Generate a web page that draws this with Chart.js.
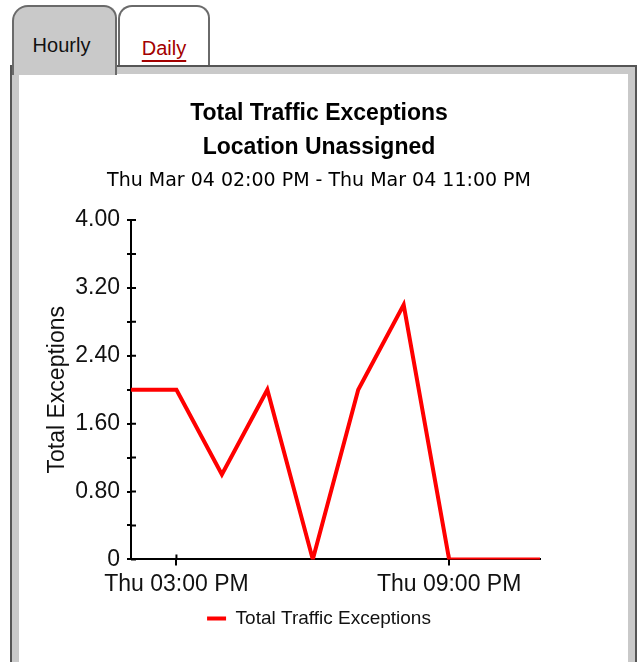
<!DOCTYPE html>
<html>
<head>
<meta charset="utf-8">
<title>Total Traffic Exceptions</title>
<script src="https://cdn.jsdelivr.net/npm/chart.js@4"></script>
<style>
  body { margin: 0; background: #fff; width: 638px; height: 662px; overflow: hidden; position: relative; font-family: 'Liberation Sans', Arial, sans-serif; }
  .tab { position: absolute; top: 5px; box-sizing: border-box; border: 2px solid #6a6a6a; border-bottom: none; font-size: 20px; text-align: center; }
  #tabHourly { left: 12px; width: 105px; height: 70px; background: #c9c9c9; border-radius: 16px 13px 0 0; z-index: 3; color: #111; padding-top: 27px; padding-right: 6px; }
  #tabDaily { left: 118px; width: 92px; height: 62px; background: #fff; border-radius: 14px 13px 0 0; z-index: 1; padding-top: 30px; }
  #tabDaily a { color: #a30000; text-decoration: underline; text-underline-offset: 5px; }
  #panel { position: absolute; left: 10px; top: 65px; width: 627px; height: 610px; box-sizing: border-box; border: 2px solid #555; z-index: 2; }
  #panelInner { position: absolute; left: 0; top: 0; right: 0; bottom: 0; border: 7px solid #c9c9c9; background: #fff; }
  #chartBox { position: absolute; left: 20px; top: 76px; width: 608px; height: 579px; z-index: 4; }
</style>
</head>
<body>
<div class="tab" id="tabHourly">Hourly</div>
<div class="tab" id="tabDaily"><a>Daily</a></div>
<div id="panel"><div id="panelInner"></div></div>
<div id="chartBox"><canvas id="trafficChart"></canvas></div>

<script>
// Data
const hours = ['02:00 PM', '03:00 PM', '04:00 PM', '05:00 PM', '06:00 PM',
               '07:00 PM', '08:00 PM', '09:00 PM', '10:00 PM', '11:00 PM'];
const exceptions = [2, 2, 1, 2, 0, 2, 3, 0, 0, 0];
const xTickLabels = ['', 'Thu 03:00 PM', '', '', '', '', '', 'Thu 09:00 PM', '', ''];
const yTickLabels = ['0', '', '0.80', '', '1.60', '', '2.40', '', '3.20', '', '4.00'];

const titleLines = ['Total Traffic Exceptions', 'Location Unassigned'];
const subTitle = 'Thu Mar 04 02:00 PM - Thu Mar 04 11:00 PM';

const sans = "'Liberation Sans', Arial, sans-serif";

// small inward half of the tick marks (they cross the axis in the original)
const innerTicks = {
    id: 'innerTicks',
    beforeDatasetsDraw(chart) {
        const { ctx, scales: { x, y } } = chart;
        ctx.save();
        ctx.strokeStyle = '#000';
        ctx.lineWidth = 2;
        ctx.beginPath();
        y.ticks.forEach((t, i) => {
            const py = y.getPixelForTick(i);
            ctx.moveTo(y.right, py);
            ctx.lineTo(y.right + 5, py);
        });
        xTickLabels.forEach((lab, i) => {
            if (!lab) return;
            const px = x.getPixelForTick(i);
            ctx.moveTo(px, x.top);
            ctx.lineTo(px, x.top - 5);
        });
        ctx.stroke();
        ctx.restore();
    }
};

const ctx = document.getElementById('trafficChart').getContext('2d');
new Chart(ctx, {
    type: 'line',
    data: {
        labels: hours,
        datasets: [{
            label: 'Total Traffic Exceptions',
            data: exceptions,
            borderColor: '#ff0000',
            backgroundColor: '#ff0000',
            borderWidth: 4,
            pointRadius: 0,
            tension: 0,
            fill: false
        }]
    },
    options: {
        responsive: true,
        maintainAspectRatio: false,
        animation: false,
        layout: { padding: { left: 20.5, right: 30.5, top: 0, bottom: 17 } },
        plugins: {
            title: {
                display: true,
                text: titleLines,
                color: '#000',
                font: { family: sans, size: 23, weight: 'bold', lineHeight: 34 / 23 },
                padding: { top: 21, bottom: 0 }
            },
            subtitle: {
                display: true,
                text: subTitle,
                color: '#000',
                font: { family: "'DejaVu Sans', sans-serif", size: 19, lineHeight: 1.2 },
                padding: { top: 5, bottom: 27.2 }
            },
            legend: {
                position: 'bottom',
                labels: {
                    color: '#111',
                    font: { family: sans, size: 19 },
                    usePointStyle: true,
                    pointStyle: 'line',
                    pointStyleWidth: 19,
                    padding: 5
                }
            },
            tooltip: { enabled: false }
        },
        scales: {
            x: {
                offset: false,
                border: { display: true, color: '#000', width: 2 },
                grid: {
                    drawOnChartArea: false,
                    drawTicks: true,
                    tickLength: 6,
                    lineWidth: 2,
                    color: (c) => (xTickLabels[c.index] ? '#000' : 'rgba(0,0,0,0)')
                },
                ticks: {
                    autoSkip: false,
                    maxRotation: 0,
                    padding: 5.5,
                    color: '#111',
                    font: { family: sans, size: 23, lineHeight: 1.2 },
                    callback: (v, i) => xTickLabels[i]
                }
            },
            y: {
                min: 0,
                max: 4,
                afterFit: (s) => { s.width = 90.5; },
                border: { display: true, color: '#000', width: 2 },
                grid: {
                    drawOnChartArea: false,
                    drawTicks: true,
                    tickLength: 4,
                    lineWidth: 2,
                    color: '#000'
                },
                ticks: {
                    stepSize: 0.4,
                    autoSkip: false,
                    padding: 7,
                    color: '#111',
                    font: { family: sans, size: 23, lineHeight: 1.2 },
                    callback: (v, i) => yTickLabels[i]
                },
                title: {
                    display: true,
                    text: 'Total Exceptions',
                    color: '#111',
                    font: { family: sans, size: 23, lineHeight: 1.2 },
                    padding: { top: 3, bottom: 0 }
                }
            },
            // empty right-hand axis, only keeps the plot clear of the right edge
            yRight: {
                position: 'right',
                display: true,
                afterFit: (s) => { s.width = 57.5; },
                grid: { display: false, drawTicks: false },
                border: { display: false },
                ticks: { display: false }
            }
        }
    },
    plugins: [innerTicks]
});
</script>
</body>
</html>
